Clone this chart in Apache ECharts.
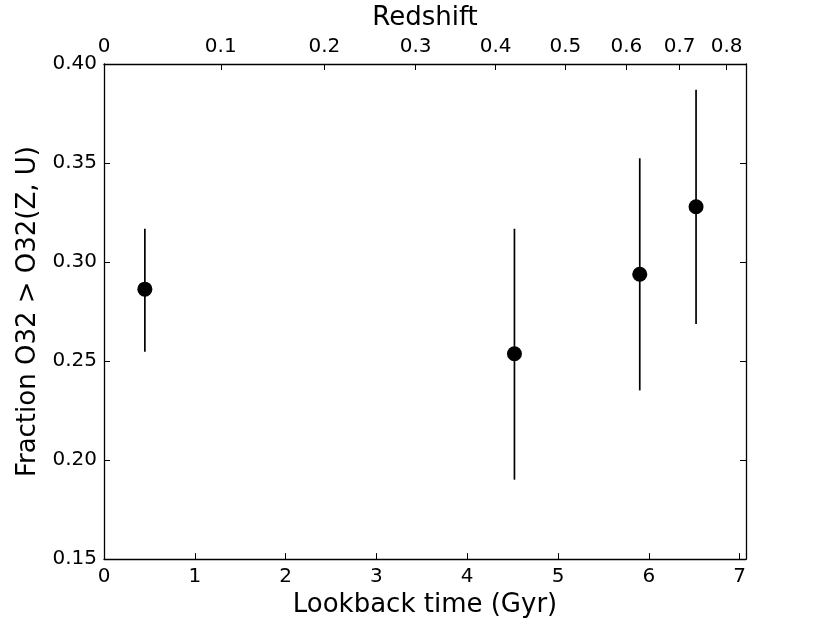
<!DOCTYPE html>
<html>
<head>
<meta charset="utf-8">
<script src="https://cdn.jsdelivr.net/npm/echarts@6/dist/echarts.min.js"></script>
<style>html,body{margin:0;padding:0;background:#fff}#c{width:830px;height:623px}</style>
</head>
<body>
<div id="c"></div>
<script>
// Data
const lookback = [0.45, 4.52, 5.90, 6.52];
const fraction = [0.2863, 0.2537, 0.2938, 0.3279];
const errLow = [0.2547, 0.1901, 0.2352, 0.2687];
const errHigh = [0.3168, 0.3168, 0.3524, 0.3870];
const xTicks = [0, 1, 2, 3, 4, 5, 6, 7];
const redshiftLabels = ['0', '0.1', '0.2', '0.3', '0.4', '0.5', '0.6', '0.7', '0.8'];
const redshiftLookback = [0, 1.286, 2.427, 3.432, 4.313, 5.081, 5.752, 6.339, 6.856];

const FONT = 'DejaVu Sans';
const chart = echarts.init(document.getElementById('c'), null, {renderer: 'canvas'});
const axisLine = {show: true, onZero: false, lineStyle: {color: '#000', width: 1.3}};
const tick = {show: true, inside: true, length: 6, lineStyle: {color: '#000', width: 1}};

chart.setOption({
  animation: false,
  backgroundColor: '#fff',
  grid: {left: 104, right: 84, top: 61, bottom: 63, containLabel: false},
  xAxis: [{
    type: 'value', position: 'bottom', min: 0, max: 7.07,
    name: 'Lookback time (Gyr)', nameLocation: 'middle', nameGap: 32,
    nameTextStyle: {fontFamily: FONT, fontSize: 26, color: '#000'},
    axisLine: axisLine,
    axisTick: Object.assign({}, tick, {customValues: xTicks}),
    axisLabel: {customValues: xTicks, fontFamily: FONT, fontSize: 20, color: '#000', margin: 8},
    splitLine: {show: false}
  }, {
    type: 'value', position: 'top', min: 0, max: 7.07,
    name: 'Redshift', nameLocation: 'middle', nameGap: 33,
    nameTextStyle: {fontFamily: FONT, fontSize: 26, color: '#000'},
    axisLine: axisLine,
    axisTick: Object.assign({}, tick, {customValues: redshiftLookback}),
    axisLabel: {
      customValues: redshiftLookback, fontFamily: FONT, fontSize: 20, color: '#000', margin: 7,
      formatter: function (v) {
        let best = 0;
        for (let i = 0; i < redshiftLookback.length; i++) {
          if (Math.abs(redshiftLookback[i] - v) < Math.abs(redshiftLookback[best] - v)) best = i;
        }
        return redshiftLabels[best];
      }
    },
    splitLine: {show: false}
  }],
  yAxis: [{
    type: 'value', position: 'left', min: 0.15, max: 0.40, interval: 0.05,
    name: 'Fraction O32 > O32(Z, U)', nameLocation: 'middle', nameGap: 61,
    nameTextStyle: {fontFamily: FONT, fontSize: 26, color: '#000'},
    axisLine: axisLine, axisTick: tick,
    axisLabel: {fontFamily: FONT, fontSize: 20, color: '#000', margin: 7,
      formatter: function (v) { return v.toFixed(2); }},
    splitLine: {show: false}
  }, {
    type: 'value', position: 'right', min: 0.15, max: 0.40, interval: 0.05,
    axisLine: axisLine, axisTick: tick,
    axisLabel: {show: false}, splitLine: {show: false}
  }],
  series: [{
    type: 'custom',
    xAxisIndex: 0, yAxisIndex: 0,
    data: lookback.map((x, i) => [x, errLow[i], errHigh[i]]),
    renderItem: function (params, api) {
      const p1 = api.coord([api.value(0), api.value(1)]);
      const p2 = api.coord([api.value(0), api.value(2)]);
      return {type: 'line', shape: {x1: p1[0], y1: p1[1], x2: p2[0], y2: p2[1]},
        style: {stroke: '#000', lineWidth: 1.7}};
    },
    z: 2
  }, {
    type: 'scatter',
    xAxisIndex: 0, yAxisIndex: 0,
    data: lookback.map((x, i) => [x, fraction[i]]),
    symbol: 'circle', symbolSize: 15,
    itemStyle: {color: '#000', opacity: 1},
    z: 3
  }]
});
</script>
</body>
</html>
